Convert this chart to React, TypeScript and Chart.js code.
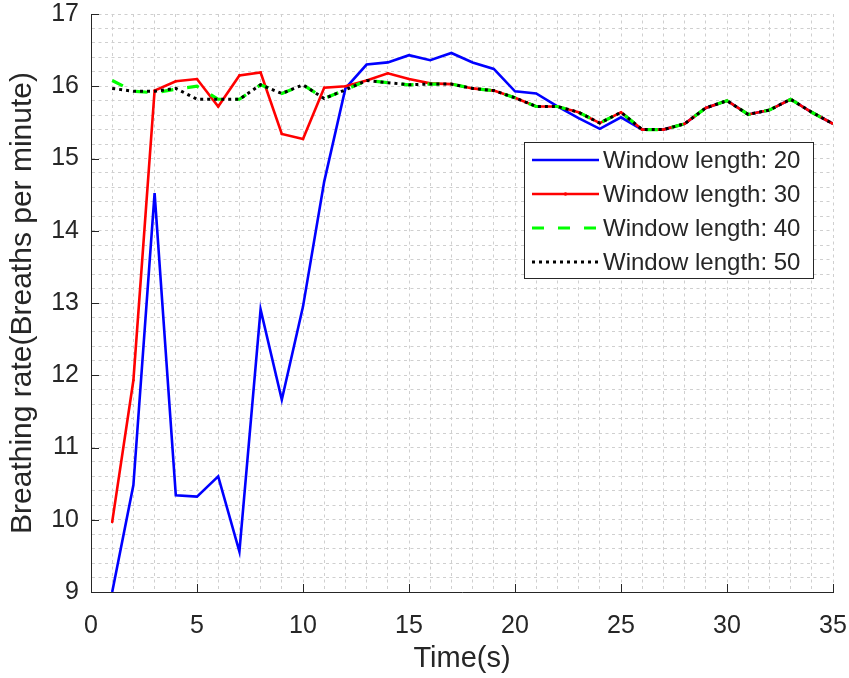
import React, { useEffect, useRef } from "react";
import { Chart, registerables } from "chart.js";

Chart.register(...registerables);

// Time axis (seconds)
const times = [
  1, 2, 3, 4, 5, 6, 7, 8, 9, 10, 11, 12, 13, 14, 15, 16, 17, 18, 19, 20,
  21, 22, 23, 24, 25, 26, 27, 28, 29, 30, 31, 32, 33, 34, 35,
];

// Estimated breathing rate (breaths per minute) for each window length
const window20 = [
  9.0, 10.48, 14.52, 10.34, 10.32, 10.6, 9.56, 12.91, 11.66, 12.95, 14.68,
  15.97, 16.3, 16.33, 16.43, 16.36, 16.46, 16.33, 16.24, 15.93, 15.9, 15.72,
  15.56, 15.41, 15.57, 15.4, 15.4, 15.48, 15.7, 15.8, 15.61, 15.67, 15.82,
  15.64, 15.48,
];
const window30 = [
  9.97, 11.93, 15.94, 16.07, 16.1, 15.72, 16.15, 16.19, 15.34, 15.27, 15.98,
  16.0, 16.08, 16.18, 16.1, 16.04, 16.03, 15.97, 15.94, 15.84, 15.72, 15.72,
  15.64, 15.49, 15.64, 15.4, 15.4, 15.48, 15.7, 15.8, 15.61, 15.67, 15.82,
  15.64, 15.48,
];
const window40 = [
  16.08, 15.93, 15.91, 15.96, 16.0, 15.82, 15.82, 16.02, 15.9, 16.02, 15.83,
  15.95, 16.08, 16.05, 16.02, 16.03, 16.03, 15.97, 15.94, 15.84, 15.72, 15.72,
  15.64, 15.49, 15.64, 15.4, 15.4, 15.48, 15.7, 15.8, 15.61, 15.67, 15.82,
  15.64, 15.48,
];
const window50 = [
  15.97, 15.93, 15.93, 15.97, 15.82, 15.82, 15.82, 16.02, 15.9, 16.02, 15.83,
  15.95, 16.08, 16.05, 16.02, 16.03, 16.03, 15.97, 15.94, 15.84, 15.72, 15.72,
  15.64, 15.49, 15.64, 15.4, 15.4, 15.48, 15.7, 15.8, 15.61, 15.67, 15.82,
  15.64, 15.48,
];

const seriesLabels = [
  "Window length: 20",
  "Window length: 30",
  "Window length: 40",
  "Window length: 50",
];

const FONT = '"Liberation Sans", Arial, Helvetica, sans-serif';
const INK = "#262626";
const GRID = "#cfcfcf";

const toPoints = (ys: number[]) => times.map((t, i) => ({ x: t, y: ys[i] }));

const isInt = (v: number) => Math.abs(v - Math.round(v)) < 1e-6;

// Keep the plot box fixed: no extra room for half-labels at the ends
const noEdgePadding = (s: any) => {
  s.paddingLeft = 0;
  s.paddingRight = 0;
  s.paddingTop = 0;
  s.paddingBottom = 0;
};

// Inward tick marks on the left and bottom axes
const inwardTicks = {
  id: "inwardTicks",
  afterDatasetsDraw(chart: any) {
    const { ctx, chartArea, scales } = chart;
    const len = 8;
    ctx.save();
    ctx.strokeStyle = INK;
    ctx.lineWidth = 1;
    ctx.beginPath();
    for (let v = 0; v <= 35; v += 5) {
      const px = Math.round(scales.x.getPixelForValue(v)) + 0.5;
      ctx.moveTo(px, chartArea.bottom);
      ctx.lineTo(px, chartArea.bottom - len);
    }
    for (let v = 9; v <= 17; v += 1) {
      const py = Math.round(scales.y.getPixelForValue(v)) + 0.5;
      ctx.moveTo(chartArea.left, py);
      ctx.lineTo(chartArea.left + len, py);
    }
    ctx.stroke();
    ctx.restore();
  },
};

// Boxed legend inside the plot area, upper right
const boxedLegend = {
  id: "boxedLegend",
  afterDraw(chart: any) {
    const { ctx, chartArea } = chart;
    const w = 289;
    const h = 136;
    const x0 = chartArea.right - 20 - w;
    const y0 = chartArea.top + 128;
    ctx.save();
    ctx.fillStyle = "#ffffff";
    ctx.fillRect(x0, y0, w, h);
    ctx.strokeStyle = INK;
    ctx.lineWidth = 1;
    ctx.strokeRect(Math.round(x0) + 0.5, Math.round(y0) + 0.5, w, h);
    chart.data.datasets.forEach((ds: any, i: number) => {
      const cy = y0 + 18 + i * 34;
      ctx.save();
      ctx.strokeStyle = ds.borderColor;
      ctx.lineWidth = ds.borderWidth;
      ctx.setLineDash(ds.borderDash || []);
      ctx.lineCap = "butt";
      ctx.beginPath();
      ctx.moveTo(x0 + 8, cy);
      ctx.lineTo(x0 + 75, cy);
      ctx.stroke();
      if (ds.pointRadius > 0) {
        ctx.fillStyle = ds.borderColor;
        ctx.beginPath();
        ctx.arc(x0 + 41.5, cy, ds.pointRadius + 0.5, 0, Math.PI * 2);
        ctx.fill();
      }
      ctx.restore();
      ctx.fillStyle = INK;
      ctx.font = `24px ${FONT}`;
      ctx.textBaseline = "middle";
      ctx.textAlign = "left";
      ctx.fillText(ds.label, x0 + 79, cy + 1);
    });
    ctx.restore();
  },
};

export default function App() {
  const canvasRef = useRef<HTMLCanvasElement | null>(null);

  useEffect(() => {
    document.body.style.margin = "0";
    const canvas = canvasRef.current;
    if (!canvas) return;
    const chart = new Chart(canvas, {
      type: "line",
      data: {
        datasets: [
          {
            label: seriesLabels[0],
            data: toPoints(window20),
            borderColor: "#0000ff",
            borderWidth: 2.6,
            pointRadius: 0,
            order: 3,
          },
          {
            label: seriesLabels[1],
            data: toPoints(window30),
            borderColor: "#ff0000",
            backgroundColor: "#ff0000",
            borderWidth: 2.6,
            pointRadius: 1.3,
            pointBorderWidth: 0,
            order: 2,
          },
          {
            label: seriesLabels[2],
            data: toPoints(window40),
            borderColor: "#00ff00",
            borderWidth: 3.2,
            borderDash: [12, 14],
            pointRadius: 0,
            order: 1,
          },
          {
            label: seriesLabels[3],
            data: toPoints(window50),
            borderColor: "#000000",
            borderWidth: 3,
            borderDash: [3, 4],
            pointRadius: 0,
            order: 0,
          },
        ],
      },
      options: {
        animation: false,
        responsive: false,
        devicePixelRatio: 1,
        parsing: false as any,
        layout: { padding: { top: 14, right: 16, left: 0, bottom: 0 } },
        plugins: {
          legend: { display: false },
          tooltip: { enabled: false },
        },
        elements: { line: { tension: 0 } },
        scales: {
          x: {
            type: "linear",
            min: 0,
            max: 35,
            afterFit: (s: any) => {
              s.height = 86;
              noEdgePadding(s);
            },
            ticks: {
              stepSize: 1,
              autoSkip: false,
              maxRotation: 0,
              padding: 19,
              color: INK,
              font: { family: FONT, size: 25 },
              callback: (v: any) => (isInt(v / 5) ? String(v) : ""),
            },
            grid: {
              color: GRID,
              lineWidth: 1,
              drawTicks: false,
            },
            border: { display: true, color: INK, width: 1, dash: [3, 3.5] },
            title: {
              display: true,
              text: "Time(s)",
              color: INK,
              font: { family: FONT, size: 29 },
              padding: { top: 0, bottom: 2 },
            },
          },
          y: {
            type: "linear",
            min: 9,
            max: 17,
            afterFit: (s: any) => {
              s.width = 91;
              noEdgePadding(s);
            },
            ticks: {
              stepSize: 0.2,
              autoSkip: false,
              padding: 12,
              color: INK,
              font: { family: FONT, size: 25 },
              callback: (v: any) => (isInt(v) ? String(Math.round(v)) : ""),
            },
            grid: {
              color: GRID,
              lineWidth: 1,
              drawTicks: false,
            },
            border: { display: true, color: INK, width: 1, dash: [3, 3.5] },
            title: {
              display: true,
              text: "Breathing rate(Breaths per minute)",
              color: INK,
              font: { family: FONT, size: 30 },
              padding: { top: 5, bottom: 0 },
            },
          },
        },
      },
      plugins: [inwardTicks, boxedLegend],
    });
    return () => chart.destroy();
  }, []);

  return (
    <div style={{ position: "fixed", left: 0, top: 0, width: 849, height: 678, background: "#fff" }}>
      <canvas ref={canvasRef} width={849} height={678} style={{ display: "block" }} />
    </div>
  );
}
